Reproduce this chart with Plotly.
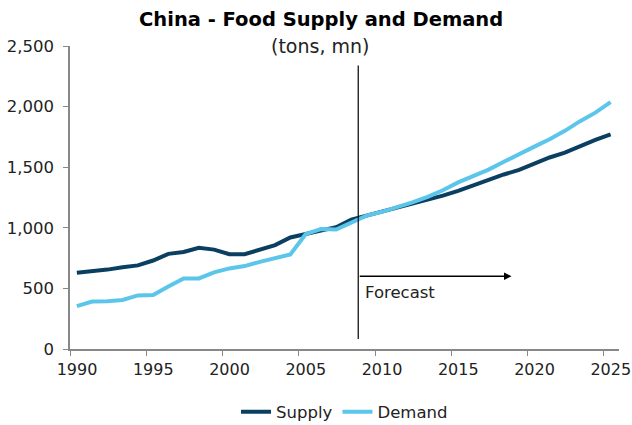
import plotly.graph_objects as go

years = list(range(1990, 2026))
supply = [630, 640, 655, 675, 690, 730, 785, 800, 835, 820,
          782, 782, 820, 857, 920, 947, 974, 1005, 1068, 1100,
          1135, 1165, 1200, 1230, 1265, 1305, 1350, 1400, 1440, 1478,
          1530, 1580, 1620, 1675, 1725, 1771]
demand = [354, 392, 395, 405, 442, 445, 515, 582, 582, 632,
          665, 684, 719, 747, 780, 947, 990, 986, 1040, 1100,
          1132, 1170, 1210, 1255, 1310, 1375, 1425, 1480, 1545, 1610,
          1670, 1730, 1800, 1880, 1950, 2037]
x_tick_vals = [1990, 1995, 2000, 2005, 2010, 2015, 2020, 2025]
forecast_start = 2008.9
forecast_end = 2018.95

xpos = [y + 0.45 for y in years]

FONT = "DejaVu Sans"
fig = go.Figure()
fig.add_trace(go.Scatter(x=xpos, y=supply, mode="lines", name="Supply",
                         line=dict(color="#0A3F62", width=4)))
fig.add_trace(go.Scatter(x=xpos, y=demand, mode="lines", name="Demand",
                         line=dict(color="#5BC6EA", width=4)))

fig.add_shape(type="line", xref="x", yref="y", x0=forecast_start, x1=forecast_start,
              y0=82, y1=2340, line=dict(color="black", width=1.2))
fig.add_annotation(x=forecast_end, y=601, ax=forecast_start, ay=601, xref="x", yref="y",
                   axref="x", ayref="y", showarrow=True, arrowhead=2, arrowsize=1,
                   arrowwidth=1.5, arrowcolor="black", text="")
fig.add_annotation(x=forecast_start + 0.3, y=470, xref="x", yref="y", text="Forecast",
                   showarrow=False, xanchor="left", yanchor="middle",
                   font=dict(family=FONT, size=16.5, color="#222"))
fig.add_annotation(x=0.457, y=1.0, xref="paper", yref="paper", yanchor="middle", yshift=27,
                   text="<b>China - Food Supply and Demand</b>", showarrow=False,
                   font=dict(family=FONT, size=19.5, color="black"))
fig.add_annotation(x=0.455, y=1.0, xref="paper", yref="paper", yanchor="middle", yshift=0,
                   text="(tons, mn)", showarrow=False,
                   font=dict(family=FONT, size=19, color="#222"))

fig.update_layout(
    width=632, height=425,
    margin=dict(l=70, r=13, t=46, b=76, autoexpand=False),
    paper_bgcolor="white", plot_bgcolor="white",
    showlegend=True,
    legend=dict(orientation="h", x=0.5, xanchor="center", y=-0.208, yanchor="middle",
                font=dict(family=FONT, size=16.5, color="#222"), itemwidth=30,
                tracegroupgap=0),
    font=dict(family=FONT, size=16, color="#222"),
)

fig.update_xaxes(range=[1990, 2026], tickvals=x_tick_vals, showline=True, linecolor="#888",
                 linewidth=1.5, ticks="outside", ticklen=5, tickcolor="#888", showgrid=False,
                 zeroline=False, ticklabelshift=7,
                 tickfont=dict(family=FONT, size=16, color="#222"))
fig.update_yaxes(range=[0, 2500], dtick=500, tickformat=",", showline=True, linecolor="#888",
                 linewidth=1.5, ticks="outside", ticklen=5, tickcolor="#888", showgrid=False,
                 zeroline=False, ticklabelstandoff=6,
                 tickfont=dict(family=FONT, size=16.5, color="#222"))

fig.write_html("out.html")
